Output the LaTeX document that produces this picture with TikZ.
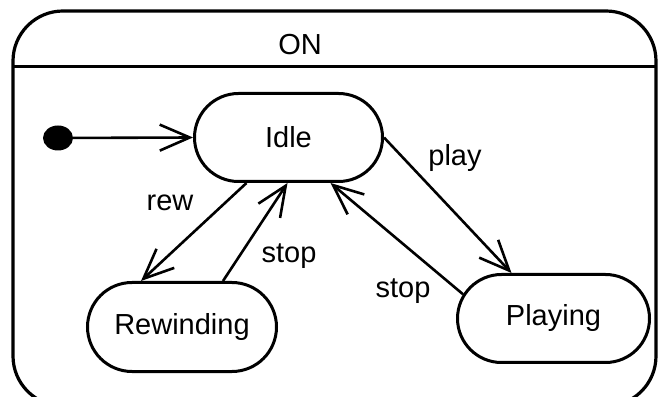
\documentclass[tikz,border=0pt]{standalone}
\usepackage{fontspec}
\setmainfont{Liberation Sans}
\usetikzlibrary{shapes.misc,shapes.geometric,arrows.meta}
\begin{document}
\begin{tikzpicture}[x=1pt,y=1pt,
  every node/.style={font=\fontsize{29}{34}\selectfont, inner sep=0pt},
  statebox/.style={draw, rounded rectangle, line width=3pt},
  trans/.style={line width=2.6pt, -{Straight Barb[length=30pt,width=26pt,line width=2.6pt]}},
  lbl/.style={}]
\useasboundingbox (0,0) rectangle (658,396);
% outer composite state
\draw[line width=3.2pt, rounded corners=50pt] (13,-10) rectangle (656,385);
\draw[line width=3pt] (13,329) -- (656,329);
\node (on) at (300,351) {ON};
% states
\node[fill=black, ellipse, minimum width=30pt, minimum height=25pt] (init) at (58,258) {};
\node[statebox, minimum width=188pt, minimum height=88pt] (idle) at (288.5,258.5) {Idle};
\node[statebox, minimum width=189pt, minimum height=89pt] (rew) at (182,69) {Rewinding};
\node[statebox, minimum width=192pt, minimum height=88pt] (play) at (553.5,77.5) {Playing};
% transitions
\draw[trans] (init) -- (idle.west);
\draw[trans] ([xshift=-42pt]idle.south) -- ([xshift=-41pt]rew.north);
\draw[trans] ([xshift=41pt]rew.north) -- ([xshift=-1pt]idle.south);
\draw[trans] (idle.east) -- ([xshift=-42pt]play.north);
\draw[trans] (play.165) -- ([xshift=42pt]idle.south);
% labels
\node[lbl] (lrew) at (170,193) {rew};
\node[lbl] (lstop1) at (289,140) {stop};
\node[lbl] (lplay) at (455,238) {play};
\node[lbl] (lstop2) at (403,105) {stop};
\end{tikzpicture}
\end{document}
